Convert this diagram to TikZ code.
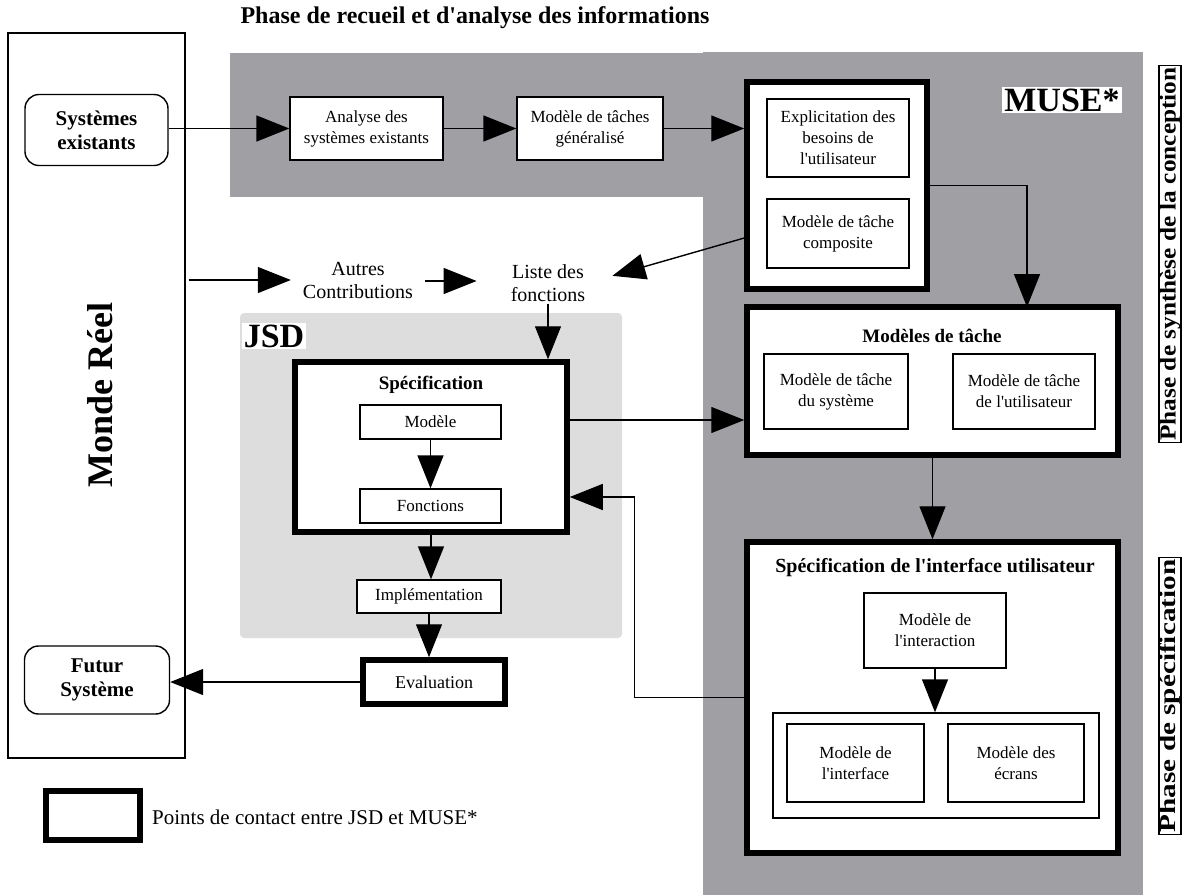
\documentclass[tikz,border=0pt]{standalone}
\usepackage{fontspec}
\setmainfont{Liberation Serif}
\usetikzlibrary{arrows.meta}
\definecolor{musegray}{RGB}{160,160,164}
\definecolor{jsdgray}{RGB}{221,221,221}
\newcommand\fsz[2]{\fontsize{#1}{#2}\selectfont}
\newcommand\ap{\textquotesingle}
\begin{document}
\begin{tikzpicture}[x=1pt,y=-1pt,
  plainbox/.style={draw, line width=1.4pt, fill=white, align=center, inner sep=0pt, font=\fsz{17}{21}},
  contact/.style={draw, line width=5.5pt, fill=white, inner sep=0pt},
  roundbox/.style={draw, line width=1.4pt, fill=white, rounded corners=14pt, align=center, inner sep=0pt, font=\bfseries\fsz{21}{24}},
  boxtitle/.style={font=\bfseries\fsz{19}{23}, inner sep=1pt},
  freetext/.style={align=center, font=\fsz{20}{23}, inner sep=2pt},
  biglabel/.style={fill=white, inner sep=2pt, font=\bfseries\fsz{34}{36}},
  phaselabel/.style={draw, line width=1.2pt, rotate=90, inner xsep=2pt, inner ysep=0.5pt, font=\bfseries\fsz{23}{25}},
  arr/.style={line width=1.4pt, -{Triangle[length=33pt, width=26pt]}}]
\useasboundingbox (0,0) rectangle (1191,895);

% shaded phase areas
\fill[musegray] (230,53) rectangle (703,197);
\fill[musegray] (703,52) rectangle (1143,895);
\fill[jsdgray, rounded corners=4pt] (240,313) rectangle (622,638);

% title
\node[font=\bfseries\fsz{24}{26}] (title) at (475,18) {Phase de recueil et d\ap analyse des informations};

% real world column
\node[draw, line width=1.4pt, minimum width=177pt, minimum height=725pt, inner sep=0pt] (monde) at (96.5,395.5) {};
\node[rotate=90, font=\bfseries\fsz{36}{40}] (mondetxt) at (100,395) {Monde Réel};
\node[roundbox, minimum width=143pt, minimum height=71pt] (sysex) at (96.5,130) {Systèmes\\existants};
\node[roundbox, minimum width=145pt, minimum height=68pt] (futur) at (97,680) {Futur\\Système};

% analysis chain
\node[plainbox, minimum width=153pt, minimum height=63pt] (analyse) at (366.5,128.5) {Analyse des\\systèmes existants};
\node[plainbox, minimum width=146pt, minimum height=63pt] (modgen) at (590,128.5) {Modèle de tâches\\généralisé};

% MUSE*
\node[biglabel] (muse) at (1062,100) {MUSE*};
\node[contact, minimum width=180pt, minimum height=207pt] (boxA) at (837,185.5) {};
\node[plainbox, minimum width=142pt, minimum height=78pt] (expl) at (838,138) {Explicitation des\\besoins de\\l\ap utilisateur};
\node[plainbox, minimum width=142pt, minimum height=69pt] (compo) at (838,233.5) {Modèle de tâche\\composite};

\node[contact, minimum width=371pt, minimum height=148pt] (boxB) at (932.5,381) {};
\node[boxtitle] (boxBt) at (932,336) {Modèles de tâche};
\node[plainbox, minimum width=144pt, minimum height=75pt] (tsys) at (836,391.5) {Modèle de tâche\\du système};
\node[plainbox, minimum width=142pt, minimum height=75pt] (tusr) at (1024,391.5) {Modèle de tâche\\de l\ap utilisateur};

\node[contact, minimum width=371pt, minimum height=311pt] (boxC) at (932.5,697.5) {};
\node[boxtitle, font=\bfseries\fsz{20}{23}] (boxCt) at (935,568) {Spécification de l\ap interface utilisateur};
\node[plainbox, minimum width=142pt, minimum height=75pt] (inter) at (935,630.5) {Modèle de\\l\ap interaction};
\node[plainbox, minimum width=326pt, minimum height=105pt] (group) at (936,765.5) {};
\node[plainbox, minimum width=137pt, minimum height=78pt] (interf) at (855.5,763) {Modèle de\\l\ap interface};
\node[plainbox, minimum width=136pt, minimum height=78pt] (ecrans) at (1016,763) {Modèle des\\écrans};

% other inputs
\node[freetext] (autres) at (358,280) {Autres\\Contributions};
\node[freetext] (liste) at (548,283) {Liste des\\fonctions};

% JSD
\node[biglabel] (jsd) at (274,336) {JSD};
\node[contact, minimum width=272pt, minimum height=170pt] (spec) at (431,447) {};
\node[boxtitle] (spect) at (431,385) {Spécification};
\node[plainbox, minimum width=141pt, minimum height=34pt] (modele) at (430.5,422) {Modèle};
\node[plainbox, minimum width=141pt, minimum height=34pt] (fonctions) at (430.5,506) {Fonctions};
\node[plainbox, minimum width=144pt, minimum height=33pt] (impl) at (429,596.5) {Implémentation};
\node[contact, minimum width=142pt, minimum height=44pt, font=\fsz{18}{21}] (eval) at (434,682) {Evaluation};

% side phase labels
\node[phaselabel] (phase1) at (1170,254) {\scalebox{1.1}[1]{Phase de synthèse de la conception}};
\node[phaselabel] (phase2) at (1170,696) {\scalebox{1.27}[1]{Phase de spécification}};

% legend
\node[contact, minimum width=94pt, minimum height=49pt] (legbox) at (93,815.5) {};
\node[anchor=west, font=\fsz{21}{24}, inner sep=0pt] (legtxt) at (152,817) {Points de contact entre JSD et MUSE*};

% connectors
\draw[arr] (sysex.east |- analyse.west) -- (analyse.west);
\draw[arr] (analyse.east) -- (modgen.west);
\draw[arr] (modgen.east) -- (modgen.east -| boxA.west);
\coordinate (bBin) at (1027,307);
\draw[arr] (boxA.east) -| (bBin);
\draw[arr, shorten >=26pt] ([yshift=-52.5pt]boxA.west) -- (liste.east);
\draw[arr, shorten <=3pt, shorten >=10pt] (monde.east |- autres.west) -- (autres.west);
\draw[arr, shorten <=10pt, shorten >=32pt] ([yshift=-1pt]autres.east) -- ([yshift=-1pt]autres.east -| liste.west);
\draw[arr] (liste.south) -- (liste.south |- spec.north);
\draw[arr] (modele.south) -- (fonctions.north);
\draw[arr] ([yshift=27pt]spec.east) -- ([yshift=27pt]spec.east -| boxB.west);
\draw[arr] (spec.south) -- (spec.south |- impl.north);
\draw[arr] (impl.south) -- (impl.south |- eval.north);
\draw[arr] (eval.west) -- (eval.west -| futur.east);
\draw[arr] (boxB.south) -- (boxB.south |- boxC.north);
\draw[arr] (inter.south) -- (inter.south |- group.north);
\draw[arr] (boxC.west) -- ++(-110,0) |- ([yshift=-50pt]spec.east);
\end{tikzpicture}
\end{document}
